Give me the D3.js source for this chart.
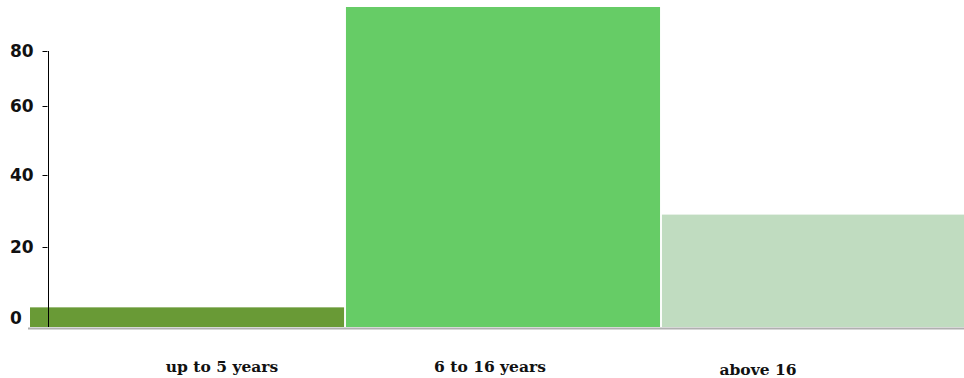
<!DOCTYPE html>
<html>
<head>
<meta charset="utf-8">
<script src="https://cdn.jsdelivr.net/npm/d3@7"></script>
<style>
  body { margin: 0; background: #fff; }
  svg { display: block; }
</style>
</head>
<body>
<script>
// data
var categories = ['up to 5 years', '6 to 16 years', 'above 16'];
var values = [3, 96, 29];
var yTicks = [0, 20, 40, 60, 80];
var barColors = ['#699a36', '#66cc66', '#c0dcc0'];

var W = 964, H = 378;

var svg = d3.select('body')
  .append('svg')
    .attr('width', W)
    .attr('height', H);

// the original axis is not evenly spaced, so a polylinear scale follows it
var y = d3.scaleLinear()
  .domain(yTicks)
  .range([318, 247, 175, 106, 51]);

var baseY = 327; // bars sit on a base line a little under the 0 tick

var x = d3.scaleBand()
  .domain(categories)
  .range([30, 976])
  .paddingInner(0.006)
  .paddingOuter(0);

// labels are not centred under the bars in the original
var xLabel = d3.scalePoint()
  .domain(categories)
  .range([222, 758]);

// grey base line
svg.append('line')
  .attr('x1', 28).attr('x2', W)
  .attr('y1', baseY + 1.5).attr('y2', baseY + 1.5)
  .attr('stroke', '#b0b0b0')
  .attr('stroke-width', 2);

// bars
svg.selectAll('rect.bar')
  .data(values)
  .enter().append('rect')
  .attr('class', 'bar')
  .attr('x', function(d, i){ return x(categories[i]); })
  .attr('width', x.bandwidth())
  .attr('y', function(d){ return y(d); })
  .attr('height', function(d){ return baseY - y(d); })
  .attr('fill', function(d, i){ return barColors[i]; });

// y axis
var yAxis = svg.append('g')
  .attr('transform', 'translate(48.5,0)')
  .call(d3.axisLeft(y).tickValues(yTicks).tickSize(5).tickSizeOuter(0));

yAxis.select('.domain').remove();
yAxis.append('line')
  .attr('x1', 0).attr('x2', 0)
  .attr('y1', y(80)).attr('y2', baseY)
  .attr('stroke', '#000');

yAxis.selectAll('.tick line').attr('stroke', '#000').attr('x2', -6).attr('x1', -1);
yAxis.selectAll('.tick').filter(function(d){ return d === 0; }).select('line').remove();
yAxis.selectAll('.tick text')
  .attr('x', -38.5)
  .attr('text-anchor', 'start')
  .attr('fill', '#111')
  .style('font-family', '"DejaVu Sans", sans-serif')
  .style('font-weight', 'bold')
  .style('font-size', '17px');

// category labels
svg.selectAll('text.cat')
  .data(categories)
  .enter().append('text')
  .attr('class', 'cat')
  .attr('x', function(d){ return xLabel(d); })
  .attr('y', function(d, i){ return i === 2 ? 375 : 372; })
  .attr('text-anchor', 'middle')
  .attr('fill', '#111')
  .style('font-family', '"DejaVu Serif", serif')
  .style('font-weight', 'bold')
  .style('font-size', '15.5px')
  .text(function(d){ return d; });
</script>
</body>
</html>
